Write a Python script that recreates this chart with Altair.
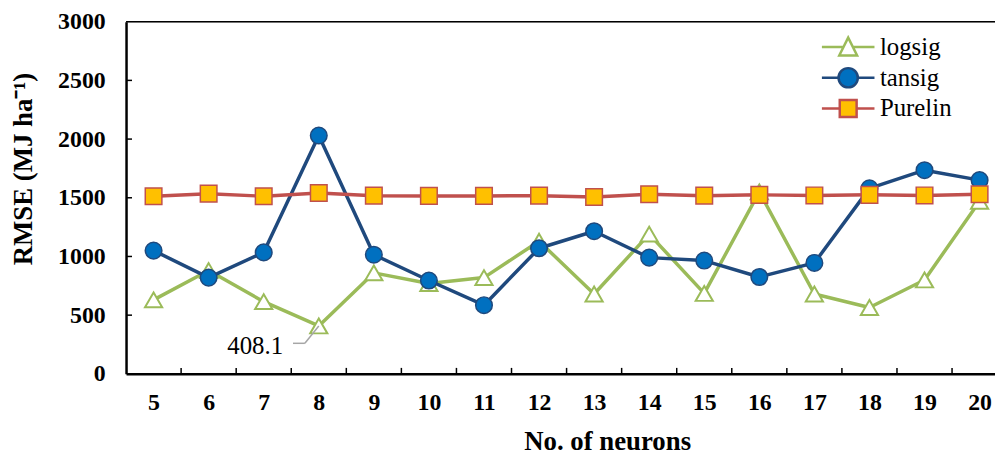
import altair as alt
import pandas as pd

# ---- data ----
neurons = list(range(5, 21))
logsig = [630, 880, 615, 408.1, 860, 770, 820, 1130, 680, 1190, 685, 1550, 680, 565, 800, 1470]
tansig = [1050, 820, 1035, 2030, 1015, 795, 585, 1070, 1215, 990, 965, 825, 945, 1580, 1735, 1650]
purelin = [1513, 1535, 1513, 1541, 1518, 1516, 1516, 1518, 1507, 1530, 1518, 1525, 1520, 1525, 1520, 1530]
series_names = ["logsig", "tansig", "Purelin"]
y_ticks = [0, 500, 1000, 1500, 2000, 2500, 3000]
inner_y_ticks = [500, 1000, 1500, 2000, 2500]
x_boundaries = [n + 0.5 for n in range(5, 20)]
annot_n = [8]
annot_v = [408.1]
annot_label = ["408.1"]

FONT = "Liberation Serif"
GREEN = "#9BBB59"
NAVY = "#1F497D"
BLUE = "#0070C0"
RED = "#C0504D"
GOLD = "#FFC000"

W, H = 876, 355

x_axis = alt.Axis(values=neurons, format="d", title="No. of neurons", grid=False,
                  ticks=False, tickSize=0, domainColor="black", domainWidth=2.5,
                  labelFont=FONT, labelFontWeight="bold", labelFontSize=24, labelColor="black",
                  labelBaseline="alphabetic", labelPadding=36, labelFlush=False, labelOverlap=False,
                  titleFont=FONT, titleFontWeight="bold", titleFontSize=27, titleColor="black",
                  titleX=485, titleY=76, titleAlign="center", titleBaseline="alphabetic")
y_axis = alt.Axis(values=y_ticks, format="d", title="RMSE (MJ ha⁻¹)", grid=False,
                  ticks=False, tickSize=0, domainColor="black", domainWidth=2.5,
                  labelFont=FONT, labelFontWeight="bold", labelFontSize=24, labelColor="black",
                  labelPadding=21, labelOverlap=False,
                  titleFont=FONT, titleFontWeight="bold", titleFontSize=27, titleColor="black",
                  titleX=-95, titleY=148, titleAlign="center", titleBaseline="alphabetic")

X = alt.X("n:Q", axis=x_axis, scale=alt.Scale(domain=[4.5, 20.28], nice=False, zero=False))
Y = alt.Y("v:Q", axis=y_axis, scale=alt.Scale(domain=[0, 3000], nice=False))

df_log = pd.DataFrame({"n": neurons, "v": logsig})
df_tan = pd.DataFrame({"n": neurons, "v": tansig})
df_pur = pd.DataFrame({"n": neurons, "v": purelin})

top_frame = alt.Chart(pd.DataFrame({"k": [0]})).mark_rule(color="black", strokeWidth=1.5).encode(
    x=alt.value(0), x2=alt.value(W), y=alt.value(0))

ytick_layer = alt.Chart(pd.DataFrame({"v": inner_y_ticks})).mark_rule(color="black", strokeWidth=1.5).encode(
    y=Y, x=alt.value(0), x2=alt.value(6))
xtick_layer = alt.Chart(pd.DataFrame({"n": x_boundaries})).mark_rule(color="black", strokeWidth=1.5).encode(
    x=X, y=alt.value(H), y2=alt.value(H - 6))

log_line = alt.Chart(df_log).mark_line(color=GREEN, strokeWidth=3.5, strokeJoin="round").encode(x=X, y=Y)
log_pts = alt.Chart(df_log).mark_point(shape="triangle-up", size=300, filled=True, fill="white",
                                       stroke=GREEN, strokeWidth=2, opacity=1).encode(x=X, y=Y)
tan_line = alt.Chart(df_tan).mark_line(color=NAVY, strokeWidth=3.5, strokeJoin="round").encode(x=X, y=Y)
tan_pts = alt.Chart(df_tan).mark_point(shape="circle", size=280, filled=True, fill=BLUE,
                                       stroke=NAVY, strokeWidth=1.5, opacity=1).encode(x=X, y=Y)
pur_line = alt.Chart(df_pur).mark_line(color=RED, strokeWidth=3.5, strokeJoin="round").encode(x=X, y=Y)
pur_pts = alt.Chart(df_pur).mark_point(shape="square", size=280, filled=True, fill=GOLD,
                                       stroke=RED, strokeWidth=1.5, opacity=1).encode(x=X, y=Y)

df_ann = pd.DataFrame({"n": annot_n, "v": annot_v, "label": annot_label})
lead1 = alt.Chart(df_ann).mark_rule(color="#A6A6A6", strokeWidth=1.5, xOffset=-26, x2Offset=-14,
                                    yOffset=17.5, y2Offset=17.5).encode(
    x=X, x2="n:Q", y=Y, y2="v:Q")
lead2 = alt.Chart(df_ann).mark_rule(color="#A6A6A6", strokeWidth=1.5, xOffset=-14, x2Offset=0,
                                    yOffset=17.5, y2Offset=0).encode(
    x=X, x2="n:Q", y=Y, y2="v:Q")
ann_text = alt.Chart(df_ann).mark_text(align="right", baseline="alphabetic", dx=-36, dy=28,
                                       font=FONT, fontSize=25, color="black").encode(
    x=X, y=Y, text="label:N")

# legend via clipped dummy layer with custom line+marker symbols
tri_path = "M-2.65,0H-0.48M0.48,0H2.65M0,-0.95L0.9,0.85L-0.9,0.85Z"
circ_path = "M-2.65,0H-0.97M0.97,0H2.65M-0.97,0A0.97,0.97 0 1,0 0.97,0A0.97,0.97 0 1,0 -0.97,0Z"
sq_path = "M-2.65,0H-0.85M0.85,0H2.65M-0.85,-0.85H0.85V0.85H-0.85Z"

legend = alt.Legend(orient="none", legendX=715.5, legendY=13, title=None, padding=0,
                    symbolSize=400, symbolStrokeWidth=2.5, labelFont=FONT, labelFontSize=25,
                    labelColor="black", labelOffset=19.5, rowPadding=2, labelLimit=300)
df_leg = pd.DataFrame({"n": [10, 10, 10], "v": [-500, -500, -500], "series": series_names})
leg_layer = alt.Chart(df_leg).mark_point(filled=True, clip=True, opacity=1, strokeWidth=2.5).encode(
    x=X, y=Y,
    shape=alt.Shape("series:N", scale=alt.Scale(domain=series_names, range=[tri_path, circ_path, sq_path]),
                    legend=legend, sort=None),
    fill=alt.Fill("series:N", scale=alt.Scale(domain=series_names, range=["white", BLUE, GOLD]),
                  legend=legend, sort=None),
    stroke=alt.Stroke("series:N", scale=alt.Scale(domain=series_names, range=[GREEN, NAVY, RED]),
                      legend=legend, sort=None),
)

chart = alt.layer(
    top_frame, ytick_layer, xtick_layer,
    log_line, log_pts, lead1, lead2, ann_text,
    tan_line, tan_pts, pur_line, pur_pts, leg_layer
).properties(
    width=W, height=H,
    autosize=alt.AutoSizeParams(type="none"),
    padding={"left": 119, "top": 12, "right": 0, "bottom": 80},
).configure_view(stroke=None).configure(background="white")

chart.save("out.html", embed_options={"renderer": "svg", "actions": False})
